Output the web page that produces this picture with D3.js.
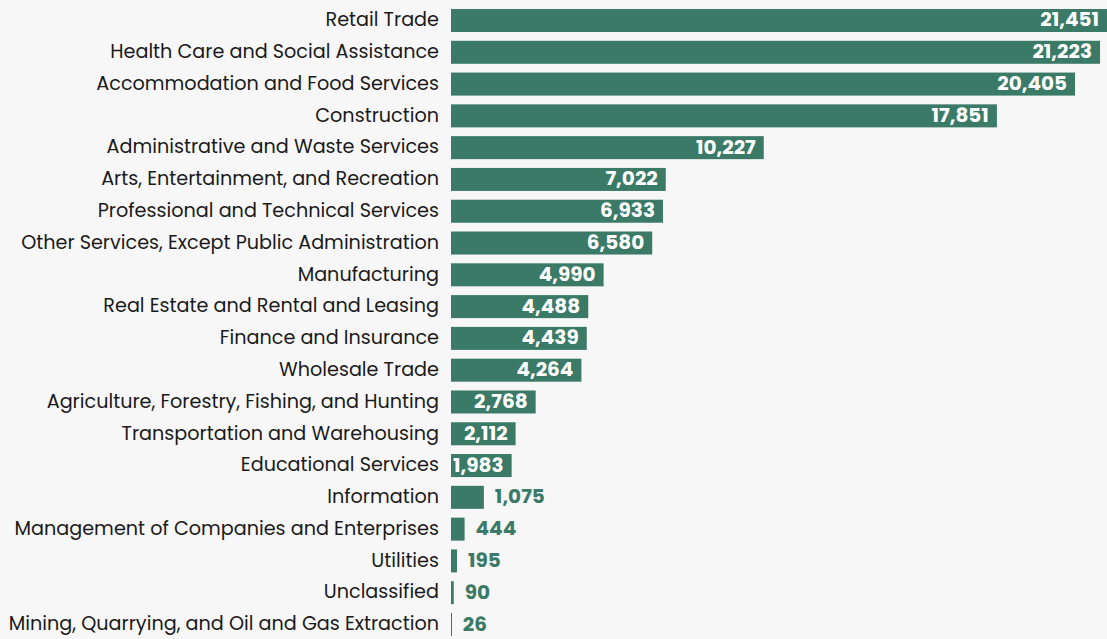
<!DOCTYPE html>
<html>
<head>
<meta charset="utf-8">
<script src="https://cdn.jsdelivr.net/npm/d3@7"></script>
<style>
  html, body { margin: 0; padding: 0; background: #f7f7f7; }
  svg { display: block; font-family: Poppins, "Open Sans", sans-serif; }
</style>
</head>
<body>
<svg width="1107" height="639"></svg>
<script>
var industries = [
  "Retail Trade", "Health Care and Social Assistance", "Accommodation and Food Services",
  "Construction", "Administrative and Waste Services", "Arts, Entertainment, and Recreation",
  "Professional and Technical Services", "Other Services, Except Public Administration",
  "Manufacturing", "Real Estate and Rental and Leasing", "Finance and Insurance",
  "Wholesale Trade", "Agriculture, Forestry, Fishing, and Hunting",
  "Transportation and Warehousing", "Educational Services", "Information",
  "Management of Companies and Enterprises", "Utilities", "Unclassified",
  "Mining, Quarrying, and Oil and Gas Extraction"
];
var counts = [21451, 21223, 20405, 17851, 10227, 7022, 6933, 6580, 4990, 4488,
  4439, 4264, 2768, 2112, 1983, 1075, 444, 195, 90, 26];

var data = industries.map(function(d, i) { return { name: d, value: counts[i] }; });

var svg = d3.select("svg"),
    width = 1107, height = 639,
    left = 451;

var x = d3.scaleLinear()
    .domain([0, d3.max(counts)])
    .range([left, width]);

var y = d3.scaleBand()
    .domain(industries)
    .range([4.6, 640.4])
    .paddingInner(0.276)
    .paddingOuter(0.138);

var fmt = d3.format(",");

svg.append("g")
    .attr("transform", "translate(" + (left - 12) + ",0)")
    .call(d3.axisLeft(y).tickSize(0).tickPadding(0))
    .call(function(g) { g.select(".domain").remove(); })
    .selectAll("text")
    .attr("font-family", "Poppins, 'Open Sans', sans-serif")
    .attr("font-size", 19.2)
    .attr("dy", "0.3em")
    .attr("fill", "#1a1a1a");

var bar = svg.append("g").selectAll("g")
    .data(data)
    .enter().append("g");

bar.append("rect")
    .attr("x", x(0))
    .attr("y", function(d) { return y(d.name); })
    .attr("width", function(d) { return Math.max(1, x(d.value) - x(0)); })
    .attr("height", y.bandwidth())
    .attr("fill", "#3a7a67");

bar.append("text")
    .attr("y", function(d) { return y(d.name) + y.bandwidth() / 2; })
    .attr("dy", "0.3em")
    .attr("font-size", 20)
    .attr("font-weight", 700)
    .each(function(d) {
      var inside = x(d.value) - x(0) > 55;
      d3.select(this)
        .attr("x", inside ? x(d.value) - 8 : x(d.value) + 11)
        .attr("text-anchor", inside ? "end" : "start")
        .attr("fill", inside ? "#fff" : "#3a7a67")
        .text(fmt(d.value));
    });
</script>
</body>
</html>
